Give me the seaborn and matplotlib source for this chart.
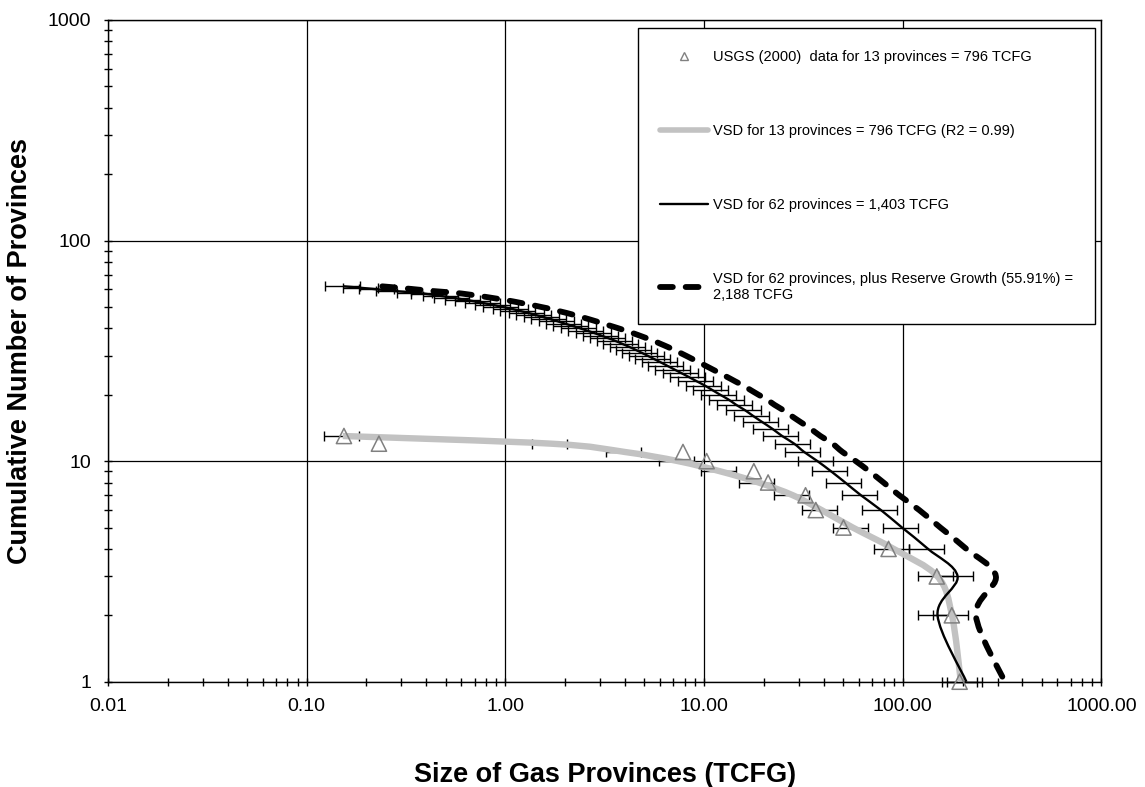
import numpy as np
import matplotlib
matplotlib.use("Agg")
import matplotlib.pyplot as plt
import seaborn as sns
from matplotlib.path import Path
from matplotlib.patches import PathPatch
from matplotlib.lines import Line2D
from matplotlib.markers import MarkerStyle
from matplotlib.ticker import LogLocator, FuncFormatter, NullFormatter

# ---------------- DATA ---------------- #

# USGS (2000) data, 13 provinces (cumulative number vs size, TCFG)
rank13 = [13, 12, 11, 10, 9, 8, 7, 6, 5, 4, 3, 2, 1]
usgs13 = [0.154, 0.231, 7.83, 10.3, 17.8, 21.0, 32.4, 36.5, 50.3, 84.8, 148.3, 176.5, 193.2]

# VSD fit for the 13 provinces
vsd13 = [0.152, 1.7, 4.0, 7.4, 12.0, 18.8, 28.0, 39.0, 56.0, 90.0, 149.5, 176.8, 196.0]

# VSD for 62 provinces (rank 62 -> 1)
rank62 = list(range(62, 0, -1))
vsd62 = [0.154, 0.19, 0.23, 0.28, 0.355, 0.417, 0.48, 0.547, 0.62, 0.70,
         0.78, 0.875, 0.97, 1.08, 1.18, 1.30, 1.42, 1.55, 1.69, 1.84,
         2.00, 2.18, 2.38, 2.59, 2.82, 3.06, 3.32, 3.60, 3.88, 4.19,
         4.51, 4.85, 5.22, 5.62, 6.07, 6.56, 7.11, 7.73, 8.43, 9.2,
         10.1, 11.0, 12.05, 13.3, 14.5, 16.1, 17.7, 19.7, 22.1, 24.7,
         28.4, 31.9, 37.2, 43.5, 51.3, 61.6, 77.6, 99.1, 134.0, 188.7,
         149.6, 209.0]

reserve_growth = 0.5591      # 55.91 %
error_pct = 0.20             # +/- 20 % bars on the VSD values

vsd13 = np.array(vsd13)
vsd62 = np.array(vsd62)
vsd62_rg = vsd62 * (1 + reserve_growth)

labels = [
    "USGS (2000)  data for 13 provinces = 796 TCFG",
    "VSD for 13 provinces = 796 TCFG (R2 = 0.99)",
    "VSD for 62 provinces = 1,403 TCFG",
    "VSD for 62 provinces, plus Reserve Growth (55.91%) =\n2,188 TCFG",
]


# smoothed (Excel style) line: bezier segments through the points, in log space
def smooth_path(xs, ys):
    pts = np.column_stack([np.log10(xs), np.log10(ys)])
    n = len(pts)
    verts = [pts[0]]
    codes = [Path.MOVETO]
    for i in range(n - 1):
        p0 = pts[i - 1] if i > 0 else pts[i]
        p1, p2 = pts[i], pts[i + 1]
        p3 = pts[i + 2] if i + 2 < n else pts[i + 1]
        verts += [p1 + (p2 - p0) / 6, p2 - (p3 - p1) / 6, p2]
        codes += [Path.CURVE4] * 3
    return Path(10 ** np.array(verts), codes)


# ---------------- PLOT ---------------- #

sns.set_style("white")
plt.rcParams["font.family"] = ["Liberation Sans", "DejaVu Sans"]
plt.rcParams["text.color"] = "black"
plt.rcParams["axes.labelcolor"] = "black"

fig = plt.figure(figsize=(11.45, 7.87), dpi=100)
ax = fig.add_axes([0.0943, 0.1338, 0.8677, 0.8408])
ax.set_xscale("log")
ax.set_yscale("log")
ax.set_xlim(0.01, 1000)
ax.set_ylim(1, 1000)

# error bars
for xs, ys in [(vsd62, rank62), (vsd13, rank13)]:
    ax.errorbar(xs, ys, xerr=[xs * error_pct, xs * error_pct], fmt="none",
                ecolor="black", elinewidth=1.0, capsize=3.5, capthick=1.0,
                zorder=2, clip_on=False)

# VSD 13 (grey band)
ax.add_patch(PathPatch(smooth_path(vsd13, rank13), fill=False, ec="#c2c2c2",
                       lw=4.6, zorder=3, capstyle="butt"))

# USGS triangles
sns.scatterplot(x=usgs13, y=rank13, ax=ax,
                marker=MarkerStyle("^", fillstyle="none"),
                color="#808080", s=120, linewidth=1.1, zorder=4, clip_on=False)

# VSD 62 (solid) and with reserve growth (dashed)
ax.add_patch(PathPatch(smooth_path(vsd62, rank62), fill=False, ec="black",
                       lw=1.7, zorder=5))
ax.add_patch(PathPatch(smooth_path(vsd62_rg, rank62), fill=False, ec="black",
                       lw=4.2, ls=(0, (2.2, 2.2)), capstyle="round", zorder=6))

# axes styling
ax.grid(True, which="major", color="black", lw=0.9)
ax.grid(False, which="minor")
for s in ax.spines.values():
    s.set_color("black")
    s.set_linewidth(1.0)

ax.xaxis.set_major_locator(LogLocator(base=10, numticks=10))
ax.xaxis.set_minor_locator(LogLocator(base=10, subs=np.arange(2, 10), numticks=20))
ax.yaxis.set_major_locator(LogLocator(base=10, numticks=10))
ax.yaxis.set_minor_locator(LogLocator(base=10, subs=np.arange(2, 10), numticks=20))
ax.xaxis.set_major_formatter(FuncFormatter(lambda v, _: f"{v:.2f}"))
ax.yaxis.set_major_formatter(FuncFormatter(lambda v, _: f"{v:g}"))
ax.xaxis.set_minor_formatter(NullFormatter())
ax.yaxis.set_minor_formatter(NullFormatter())
ax.tick_params(which="both", direction="inout", length=6, width=1.0,
               colors="black", labelsize=14, pad=9)
ax.tick_params(axis="x", which="both", bottom=True, top=False)
ax.tick_params(axis="y", which="both", left=True, right=False)

ax.set_xlabel("Size of Gas Provinces (TCFG)", fontsize=19.5, fontweight="bold")
ax.set_ylabel("Cumulative Number of Provinces", fontsize=19.5, fontweight="bold")
ax.xaxis.set_label_coords(0.5, -0.122)
ax.yaxis.set_label_coords(-0.075, 0.5)

# legend
handles = [
    Line2D([], [], marker="^", ls="none", mfc="none", mec="#808080", ms=6, mew=1.0),
    Line2D([], [], color="#c2c2c2", lw=4.0),
    Line2D([], [], color="black", lw=1.7),
    Line2D([], [], color="black", lw=4.2, ls=(0, (2.2, 2.2)), dash_capstyle="round"),
]
leg = ax.legend(handles, labels, loc="upper right", bbox_to_anchor=(0.9935, 0.9875),
                borderaxespad=0, fontsize=10.5, frameon=True, fancybox=False,
                edgecolor="black", framealpha=1, labelspacing=4.1,
                handlelength=3.3, handletextpad=0.35, borderpad=1.5)
leg.get_frame().set_linewidth(1.0)
leg.set_zorder(10)

fig.savefig("out.png", dpi=100)
